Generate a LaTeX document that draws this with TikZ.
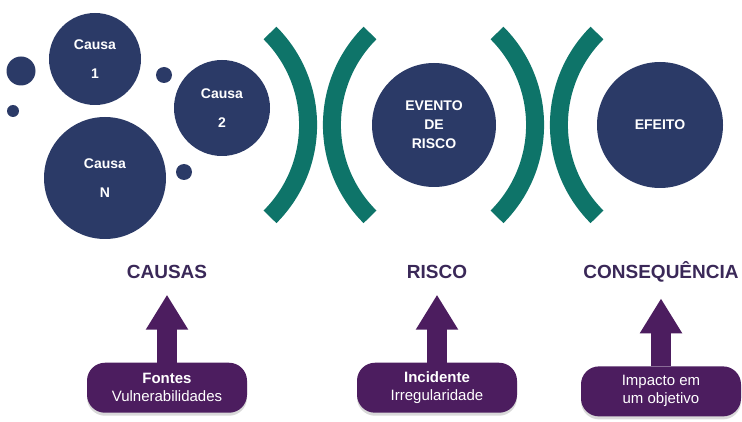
\documentclass[tikz,border=0pt]{standalone}
\usepackage{fontspec}
\setmainfont{Liberation Sans}
\usetikzlibrary{positioning,arrows.meta,shadows}
\definecolor{riskblue}{HTML}{2B3A67}
\definecolor{riskteal}{HTML}{0E7469}
\definecolor{riskpurple}{HTML}{4C1D5F}
\definecolor{labelink}{HTML}{3A2858}
\begin{document}
\begin{tikzpicture}[x=1pt, y=-1pt,
  every node/.style={inner sep=0pt, outer sep=0pt},
  ball/.style={circle, fill=riskblue, text=white, align=center,
    font={\bfseries\fontsize{14}{29}\selectfont}},
  dot/.style={circle, fill=riskblue},
  wall/.style={draw=riskteal, line width=18pt},
  heading/.style={text=labelink, font={\bfseries\fontsize{19}{22}\selectfont}},
  srcbox/.style={fill=riskpurple, text=white, rounded corners=18pt,
    minimum width=160pt, minimum height=50pt, align=center,
    font={\fontsize{15}{18}\selectfont},
    drop shadow={shadow xshift=0pt, shadow yshift=-3pt, opacity=.3}},
  uparrow/.style={draw=riskpurple, line width=20pt,
    -{Triangle[width=40pt,length=35pt]}, shorten >=16pt}]
\useasboundingbox (0,0) rectangle (742,422);
% causes
\node[ball, minimum size=92pt] (cause1) at (95,59) {Causa\\1};
\node[ball, minimum size=96pt] (cause2) at (222,108) {Causa\\2};
\node[ball, minimum size=122pt] (causeN) at (105,178) {Causa\\N};
\node[dot, minimum size=29pt] (dotA) at (21,71) {};
\node[dot, minimum size=12pt] (dotB) at (13,111) {};
\node[dot, minimum size=16pt] (dotC) at (164,75) {};
\node[dot, minimum size=16pt] (dotD) at (184,172) {};
% barriers
\foreach \gap in {320,547} {
  \draw[wall] (\gap-50,33) arc[start angle=-45, end angle=45, radius=130];
  \draw[wall] (\gap+50,33) arc[start angle=225, end angle=135, radius=130];
}
\node[ball, minimum size=124pt, font={\bfseries\fontsize{14}{19}\selectfont}] (event) at (434,125) {EVENTO\\DE\\RISCO};
\node[ball, minimum size=126pt] (effect) at (660,125) {EFEITO};
% bottom row
\node[heading] (causas) at (167,272) {CAUSAS};
\node[heading] (risco) at (437,272) {RISCO};
\node[heading] (conseq) at (661,272) {CONSEQUÊNCIA};
\node[srcbox, below=84pt of causas] (fontes) {\textbf{Fontes}\\Vulnerabilidades};
\node[srcbox, below=84pt of risco] (incid) {\textbf{Incidente}\\Irregularidade};
\node[srcbox, below=84pt of conseq] (impact) {Impacto em\\um objetivo};
\draw[uparrow] (fontes) -- (causas);
\draw[uparrow] (incid) -- (risco);
\draw[uparrow] (impact) -- (conseq);
\end{tikzpicture}
\end{document}
